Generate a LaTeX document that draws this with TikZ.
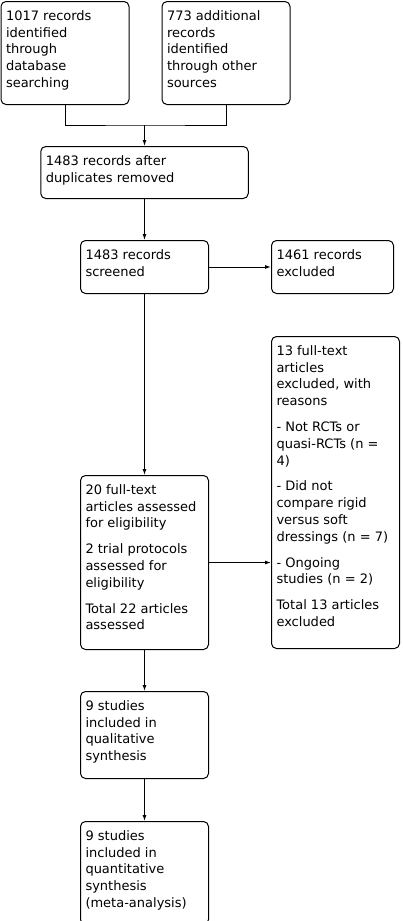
\documentclass[tikz,border=0pt]{standalone}
\usepackage{fontspec}
\setmainfont{DejaVu Sans}
\usetikzlibrary{positioning,arrows.meta}
\newcommand{\recordtext}[3]{\parbox[t][#2][t]{#1}{\raggedright #3}}
\tikzset{
	record/.style={
		draw,
		rounded corners=5pt,
		line width=1pt,
		inner xsep=5pt,
		inner ysep=9pt,
		font=\fontsize{13pt}{16.8pt}\selectfont
	},
	flow/.style={
		line width=1pt,
		-{Latex[length=6pt,width=4pt]}
	}
}

\begin{document}
\begin{tikzpicture}[node distance=41pt]
	\useasboundingbox (0pt,0pt) rectangle (402pt,-921pt);
	% identification
	\node [record, anchor=north west] (db) at (0.5pt,-1pt) {\recordtext{118pt}{85pt}{1017 records\\ identified\\ through\\ database\\ searching}};
	\node [record, right=32pt of db] (other) {\recordtext{118pt}{85pt}{773 additional\\ records\\ identified\\ through other\\ sources}};
	\coordinate (join) at (144.5pt,-125pt);
	\node [record, below=21pt of join] (dup) {\recordtext{197.5pt}{34pt}{1483 records after\\ duplicates removed}};
	% screening
	\node [record, below=of dup] (screened) {\recordtext{118pt}{35pt}{1483 records\\ screened}};
	\node [record, right=62pt of screened] (excl) {\recordtext{112pt}{35pt}{1461 records\\ excluded}};
	% eligibility
	\node [record, below=181pt of screened] (fulltext) {\recordtext{118pt}{156pt}{20 full-text\\ articles assessed\\ for eligibility\\[9pt] 2 trial protocols\\ assessed for\\ eligibility\\[9pt] Total 22 articles\\ assessed}};
	\node [record, below=42pt of excl.south west, anchor=north west] (fexcl) {\recordtext{118pt}{294pt}{13 full-text\\ articles\\ excluded, with\\ reasons\\[9pt] - Not RCTs or\\ quasi-RCTs (n =\\ 4)\\[9pt] - Did not\\ compare rigid\\ versus soft\\ dressings (n = 7)\\[9pt] - Ongoing\\ studies (n = 2)\\[9pt] Total 13 articles\\ excluded}};
	% included
	\node [record, below=of fulltext] (qual) {\recordtext{118pt}{69pt}{9 studies\\ included in\\ qualitative\\ synthesis}};
	\node [record, below=42pt of qual] (quant) {\recordtext{118pt}{85pt}{9 studies\\ included in\\ quantitative\\ synthesis\\ (meta-analysis)}};
	% connectors
	\draw [line width=1pt] (db.south) |- (join) -| (other.south);
	\draw [flow] (join) -- (dup);
	\draw [flow] (dup) -- (screened);
	\draw [flow] (screened) -- (excl);
	\draw [flow] (screened) -- (fulltext);
	\draw [flow] (fulltext.east) -- (fulltext.east -| fexcl.west);
	\draw [flow] (fulltext) -- (qual);
	\draw [flow] (qual) -- (quant);
\end{tikzpicture}
\end{document}
